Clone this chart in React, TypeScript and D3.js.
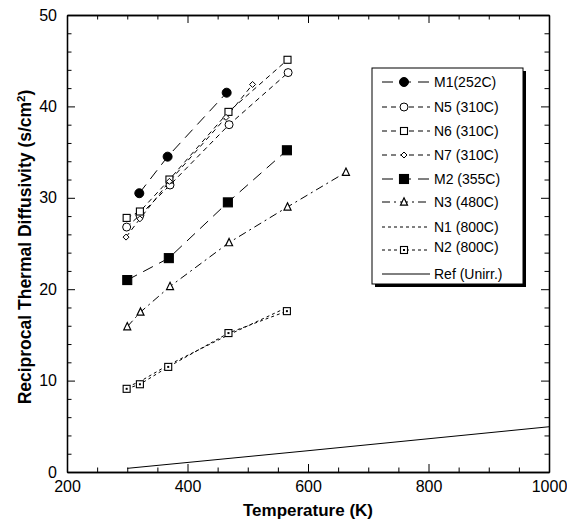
import React, { useEffect, useRef } from "react";
import * as d3 from "d3";

// series data (temperature in K, reciprocal diffusivity in s/cm2)
const m1T = [320, 367, 465];
const m1V = [30.5, 34.5, 41.5];
const n5T = [299, 321, 371, 469, 567];
const n5V = [26.8, 28.1, 31.4, 38.0, 43.7];
const n6T = [299, 321, 370, 468, 566];
const n6V = [27.8, 28.5, 32.0, 39.4, 45.1];
const n7T = [298, 321, 370, 464, 508];
const n7V = [25.7, 27.7, 31.8, 38.8, 42.4];
const m2T = [300, 369, 467, 565];
const m2V = [21.0, 23.4, 29.5, 35.2];
const n3T = [300, 322, 371, 469, 566, 663];
const n3V = [15.9, 17.5, 20.3, 25.1, 29.0, 32.8];
const n1T = [300, 321, 368, 468, 565];
const n1V = [9.3, 9.9, 11.7, 15.0, 18.0];
const n2T = [299, 321, 368, 468, 565];
const n2V = [9.1, 9.6, 11.5, 15.2, 17.6];
const refT = [300, 600, 1000];
const refV = [0.4, 2.33, 4.95];

const xTicks = [200, 400, 600, 800, 1000];
const yTicks = [0, 10, 20, 30, 40, 50];

const seriesNames = [
  "M1(252C)",
  "N5 (310C)",
  "N6 (310C)",
  "N7 (310C)",
  "M2 (355C)",
  "N3 (480C)",
  "N1 (800C)",
  "N2 (800C)",
  "Ref (Unirr.)",
];

const FONT = "'Liberation Sans', Arial, Helvetica, sans-serif";

export default function App() {
  const ref = useRef<SVGSVGElement>(null);

  useEffect(() => {
    const svg = d3.select(ref.current);
    svg.selectAll("*").remove();

    const x = d3.scaleLinear().domain([200, 1000]).range([67, 549]);
    const y = d3.scaleLinear().domain([0, 50]).range([472, 15]);

    const series = [
      { name: seriesNames[0], t: m1T, v: m1V, dash: "11,7", marker: "circle", filled: true, size: 4.5 },
      { name: seriesNames[1], t: n5T, v: n5V, dash: "5,4", marker: "circle", filled: false, size: 4 },
      { name: seriesNames[2], t: n6T, v: n6V, dash: "5,4", marker: "square", filled: false, size: 7 },
      { name: seriesNames[3], t: n7T, v: n7V, dash: "5,4", marker: "diamond", filled: false, size: 3 },
      { name: seriesNames[4], t: m2T, v: m2V, dash: "11,7", marker: "square", filled: true, size: 9 },
      { name: seriesNames[5], t: n3T, v: n3V, dash: "8,4,2,4", marker: "triangle", filled: false, size: 7 },
      { name: seriesNames[6], t: n1T, v: n1V, dash: "3,3", marker: "none", filled: false, size: 0 },
      { name: seriesNames[7], t: n2T, v: n2V, dash: "3,3", marker: "dotsquare", filled: false, size: 7 },
      { name: seriesNames[8], t: refT, v: refV, dash: null, marker: "none", filled: false, size: 0 },
    ];

    // axes (box with inward ticks on all sides)
    const minorX = d3.range(250, 1000, 50).filter((d) => d % 200 !== 0);
    const minorY = d3.range(2, 50, 2).filter((d) => d % 10 !== 0);
    const fmt = d3.format("d");

    const styleAxis = (g: any) => {
      g.selectAll("path").attr("stroke", "#000").attr("stroke-width", 1.3);
      g.selectAll("line").attr("stroke", "#000").attr("stroke-width", 1);
      g.selectAll("text")
        .attr("fill", "#000")
        .style("font-family", FONT)
        .style("font-size", "16px");
    };

    svg.append("g").attr("transform", "translate(0,472)")
      .call(d3.axisBottom(x).tickValues(xTicks).tickSize(-8).tickSizeOuter(0).tickPadding(9).tickFormat(fmt))
      .call(styleAxis);
    svg.append("g").attr("transform", "translate(0,472)")
      .call(d3.axisBottom(x).tickValues(minorX).tickSize(-4.5).tickSizeOuter(0).tickFormat(() => ""))
      .call(styleAxis);
    svg.append("g").attr("transform", "translate(0,15)")
      .call(d3.axisTop(x).tickValues(xTicks).tickSize(-8).tickSizeOuter(0).tickFormat(() => ""))
      .call(styleAxis);
    svg.append("g").attr("transform", "translate(0,15)")
      .call(d3.axisTop(x).tickValues(minorX).tickSize(-4.5).tickSizeOuter(0).tickFormat(() => ""))
      .call(styleAxis);
    svg.append("g").attr("transform", "translate(67,0)")
      .call(d3.axisLeft(y).tickValues(yTicks).tickSize(-8).tickSizeOuter(0).tickPadding(10).tickFormat(fmt))
      .call(styleAxis);
    svg.append("g").attr("transform", "translate(67,0)")
      .call(d3.axisLeft(y).tickValues(minorY).tickSize(-4.5).tickSizeOuter(0).tickFormat(() => ""))
      .call(styleAxis);
    svg.append("g").attr("transform", "translate(549,0)")
      .call(d3.axisRight(y).tickValues(yTicks).tickSize(-8).tickSizeOuter(0).tickFormat(() => ""))
      .call(styleAxis);
    svg.append("g").attr("transform", "translate(549,0)")
      .call(d3.axisRight(y).tickValues(minorY).tickSize(-4.5).tickSizeOuter(0).tickFormat(() => ""))
      .call(styleAxis);

    // axis titles
    svg.append("text")
      .attr("x", 308).attr("y", 516)
      .attr("text-anchor", "middle")
      .style("font-family", FONT).style("font-size", "17px").style("font-weight", "bold")
      .text("Temperature (K)");

    const yl = svg.append("text")
      .attr("transform", "translate(31,247) rotate(-90)")
      .attr("text-anchor", "middle")
      .style("font-family", FONT).style("font-size", "17.5px").style("font-weight", "bold");
    yl.append("tspan").text("Reciprocal Thermal Diffusivity (s/cm");
    yl.append("tspan").attr("dy", -6).style("font-size", "11.5px").text("2");
    yl.append("tspan").attr("dy", 6).text(")");

    const drawMarker = (g: any, kind: string, cx: number, cy: number, s: number, filled: boolean) => {
      const fill = filled ? "#000" : "#fff";
      if (kind === "circle") {
        g.append("circle").attr("cx", cx).attr("cy", cy).attr("r", s)
          .attr("fill", fill).attr("stroke", "#000").attr("stroke-width", 1);
      } else if (kind === "square" || kind === "dotsquare") {
        g.append("rect").attr("x", cx - s / 2).attr("y", cy - s / 2).attr("width", s).attr("height", s)
          .attr("fill", fill).attr("stroke", "#000").attr("stroke-width", 1.1);
        if (kind === "dotsquare") {
          g.append("rect").attr("x", cx - 1).attr("y", cy - 1).attr("width", 2).attr("height", 2).attr("fill", "#000");
        }
      } else if (kind === "diamond") {
        g.append("path")
          .attr("d", `M${cx},${cy - s}L${cx + s},${cy}L${cx},${cy + s}L${cx - s},${cy}Z`)
          .attr("fill", fill).attr("stroke", "#000").attr("stroke-width", 1);
      } else if (kind === "triangle") {
        const h = s * 0.9;
        g.append("path")
          .attr("d", `M${cx},${cy - h / 2 - 1}L${cx + s / 2},${cy + h / 2}L${cx - s / 2},${cy + h / 2}Z`)
          .attr("fill", fill).attr("stroke", "#000").attr("stroke-width", 1.2);
      }
    };

    const line = d3.line<[number, number]>().x((d) => x(d[0])).y((d) => y(d[1]));
    const plot = svg.append("g");
    series.forEach((s) => {
      const pts = s.t.map((t, i) => [t, s.v[i]] as [number, number]);
      plot.append("path")
        .attr("d", line(pts))
        .attr("fill", "none")
        .attr("stroke", "#000")
        .attr("stroke-width", 1)
        .attr("stroke-dasharray", s.dash);
    });
    series.forEach((s) => {
      s.t.forEach((t, i) => drawMarker(plot, s.marker, x(t), y(s.v[i]), s.size, s.filled));
    });

    // legend with drop shadow
    const lg = svg.append("g");
    lg.append("rect").attr("x", 375).attr("y", 71).attr("width", 151).attr("height", 216).attr("fill", "#000");
    lg.append("rect").attr("x", 372).attr("y", 68).attr("width", 151).attr("height", 216)
      .attr("fill", "#fff").attr("stroke", "#000").attr("stroke-width", 1);
    const rowY = [82, 107, 131, 155, 179, 202, 227, 250, 274];
    series.forEach((s, i) => {
      const ly = rowY[i];
      const ty = i === 7 ? ly - 3 : ly;
      lg.append("line").attr("x1", 382).attr("x2", 430).attr("y1", ly).attr("y2", ly)
        .attr("stroke", "#000").attr("stroke-width", 1).attr("stroke-dasharray", s.dash);
      drawMarker(lg, s.marker, 404, ly, s.size, s.filled);
      lg.append("text").attr("x", 434).attr("y", ty + 5)
        .style("font-family", FONT).style("font-size", "14px")
        .text(s.name);
    });
  }, []);

  return (
    <svg ref={ref} width={567} height={524}
      style={{ position: "absolute", left: 0, top: 0, background: "#fff" }} />
  );
}
